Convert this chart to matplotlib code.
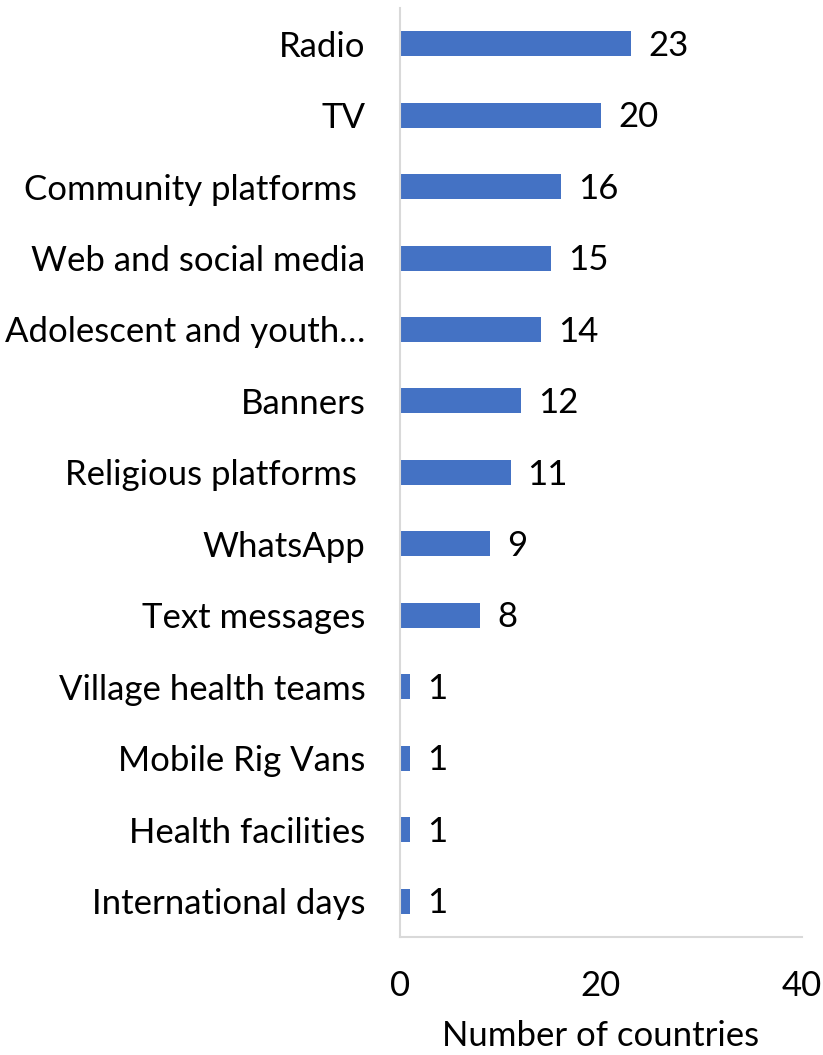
import matplotlib
matplotlib.use("Agg")
import matplotlib.pyplot as plt

categories = ["Radio", "TV", "Community platforms ", "Web and social media",
              "Adolescent and youth\u2026", "Banners", "Religious platforms ",
              "WhatsApp", "Text messages", "Village health teams",
              "Mobile Rig Vans", "Health facilities", "International days"]
values = [23, 20, 16, 15, 14, 12, 11, 9, 8, 1, 1, 1, 1]

plt.rcParams["font.family"] = ["Lato", "DejaVu Sans"]

fig = plt.figure(figsize=(8.23, 10.55), dpi=100)
ax = fig.add_axes([0.486, 0.112, 0.4885, 0.8805])

pos = list(range(len(categories)))
ax.barh(pos, values, height=0.35, color="#4472C4")
ax.set_ylim(len(categories) - 0.5, -0.5)
ax.set_xlim(0, 40)
ax.set_xticks([0, 20, 40])
ax.set_yticks(pos)
ax.set_yticklabels(categories)
ax.tick_params(axis="y", length=0, pad=25, labelsize=25)
ax.tick_params(axis="x", length=0, pad=24, labelsize=25)

for p, v in zip(pos, values):
    ax.text(v + 1.7, p + 0.03, str(v), va="center", ha="left", fontsize=25, color="black")

for s in ["top", "right"]:
    ax.spines[s].set_visible(False)
for s in ["left", "bottom"]:
    ax.spines[s].set_color("#D9D9D9")
    ax.spines[s].set_linewidth(1.5)

ax.set_xlabel("Number of countries", fontsize=25, labelpad=13)

fig.savefig("out.png", dpi=100, facecolor="white")
